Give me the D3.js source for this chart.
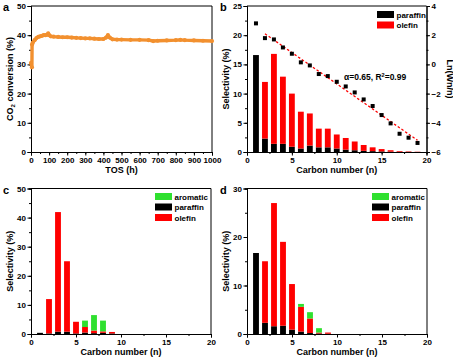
<!DOCTYPE html>
<meta charset="utf-8">
<script src="https://d3js.org/d3.v7.min.js"></script>
<style>
  body { margin: 0; background: #fff; }
  text { font-family: "Liberation Sans", Arial, sans-serif; font-weight: bold; }
</style>
<div id="chart"></div>
<script>
// ---- data ----
// panel a: CO2 conversion vs time on stream
var tos  = [0, 5, 6, 10, 20, 30, 40, 50, 60, 70, 80, 90, 95, 100, 110, 125, 150, 175, 200, 225, 250, 275, 300, 325, 350, 375, 400, 415, 425, 435, 450, 475, 500, 550, 600, 650, 675, 700, 750, 800, 825, 850, 900, 950, 1000];
var conv = [30.5, 29.0, 36.8, 37.5, 38.3, 39.0, 39.4, 39.6, 39.8, 40.0, 40.0, 40.2, 40.6, 40.0, 39.6, 39.5, 39.4, 39.3, 39.3, 39.2, 39.1, 39.0, 38.9, 38.9, 38.8, 38.7, 38.7, 39.2, 40.0, 39.2, 38.6, 38.5, 38.5, 38.4, 38.4, 38.3, 38.0, 38.1, 38.2, 38.3, 38.4, 38.3, 38.2, 38.1, 38.0];

// panel b: selectivity by carbon number + ASF plot
var carbonB   = [1, 2, 3, 4, 5, 6, 7, 8, 9, 10, 11, 12, 13, 14, 15, 16, 17, 18, 19];
var paraffinB = [16.6, 2.3, 1.4, 1.4, 0.9, 0.6, 1.1, 0.8, 0.8, 0.6, 0.4, 0.3, 0.2, 0.15, 0.1, 0.05, 0.03, 0.02, 0.01];
var olefinB   = [0, 9.7, 15.4, 11.5, 9.1, 6.3, 5.5, 3.2, 3.2, 2.4, 2.0, 1.5, 1.0, 0.65, 0.4, 0.25, 0.12, 0.08, 0.04];
var lnWn      = [2.81, 1.80, 1.71, 1.16, 0.73, 0.14, -0.07, -0.66, -0.80, -1.19, -1.51, -1.92, -2.40, -2.85, -3.47, -4.04, -4.75, -5.02, -5.38];
var fitN  = [2, 19];
var fitLn = [2.1, -5.2];

// panel c
var carbonC   = [1, 2, 3, 4, 5, 6, 7, 8, 9];
var paraffinC = [0.4, 0.2, 0.8, 0.8, 0.2, 0.5, 0.3, 0.4, 0.2];
var olefinC   = [0, 11.8, 41.1, 24.2, 4.0, 1.9, 0.9, 0.5, 0.5];
var aromaticC = [0, 0, 0, 0, 0, 2.2, 5.3, 3.7, 0];

// panel d
var carbonD   = [1, 2, 3, 4, 5, 6, 7, 8, 9];
var paraffinD = [16.7, 2.3, 1.6, 1.7, 0.9, 0.5, 0.2, 0.1, 0.05];
var olefinD   = [0, 12.7, 25.4, 17.3, 9.4, 5.1, 3.0, 0.2, 0.25];
var aromaticD = [0, 0, 0, 0, 0, 0.6, 1.3, 0.9, 0];

var RED = "#ff0000", GREEN = "#2fe02f", ORANGE = "#f2902f";

var svg = d3.select("#chart").append("svg")
  .attr("width", 453).attr("height", 363);

// draw frame + axes for one panel
function frame(box, xDom, xStep, xMinor, yDom, yStep, yMinor, rightAxis) {
  var x = d3.scaleLinear().domain(xDom).range([box.l, box.r]);
  var y = d3.scaleLinear().domain(yDom).range([box.b, box.t]);
  var xt = d3.range(xDom[0], xDom[1] + 1e-9, xStep);
  var yt = d3.range(yDom[0], yDom[1] + 1e-9, yStep);
  var xm = d3.range(xDom[0], xDom[1] + 1e-9, xMinor);
  var ym = d3.range(yDom[0], yDom[1] + 1e-9, yMinor);

  svg.append("g").attr("transform", "translate(0," + box.b + ")")
    .call(d3.axisBottom(x).tickValues(xm).tickSize(2).tickFormat(""));
  svg.append("g").attr("transform", "translate(0," + box.b + ")")
    .call(d3.axisBottom(x).tickValues(xt).tickSize(3.5).tickPadding(1.5).tickFormat(d3.format("d")))
    .attr("font-size", 8);
  svg.append("g").attr("transform", "translate(" + box.l + ",0)")
    .call(d3.axisLeft(y).tickValues(ym).tickSize(2).tickFormat(""));
  svg.append("g").attr("transform", "translate(" + box.l + ",0)")
    .call(d3.axisLeft(y).tickValues(yt).tickSize(3.5).tickPadding(1.5).tickFormat(d3.format("d")))
    .attr("font-size", 8);
  // top line
  svg.append("line").attr("x1", box.l).attr("x2", box.r).attr("y1", box.t).attr("y2", box.t)
    .attr("stroke", "#000");
  if (!rightAxis) {
    svg.append("line").attr("x1", box.r).attr("x2", box.r).attr("y1", box.t).attr("y2", box.b)
      .attr("stroke", "#000");
  }
  svg.selectAll(".domain").attr("stroke", "#000");
  svg.selectAll(".tick line").attr("stroke", "#000");
  svg.selectAll(".tick text").attr("fill", "#000").attr("font-weight", "bold");
  return { x: x, y: y };
}

function titles(box, ytitle, xtitle, letter, lx, ly) {
  svg.append("text").attr("x", (box.l + box.r) / 2).attr("y", box.b + 21)
    .attr("text-anchor", "middle").attr("font-size", 9).text(xtitle);
  var yt = svg.append("text")
    .attr("transform", "translate(" + (box.l - 18.5) + "," + ((box.t + box.b) / 2) + ") rotate(-90)")
    .attr("text-anchor", "middle").attr("font-size", 9);
  if (typeof ytitle === "string") yt.text(ytitle); else ytitle(yt);
  svg.append("text").attr("x", lx).attr("y", ly).attr("font-size", 11).text(letter);
}

function legend(x0, y0, items) {
  items.forEach(function (it, i) {
    svg.append("rect").attr("x", x0).attr("y", y0 + i * 10.5).attr("width", 17).attr("height", 7)
      .attr("fill", it[1]);
    svg.append("text").attr("x", x0 + 19.5).attr("y", y0 + i * 10.5 + 6.5)
      .attr("font-size", 8).attr("font-weight", "normal").text(it[0]);
  });
}

function stackedBars(s, n, layers) {
  var bw = Math.abs(s.x(0.65) - s.x(0));
  n.forEach(function (c, i) {
    var base = 0;
    layers.forEach(function (L) {
      var v = L.vals[i];
      if (v > 0) {
        svg.append("rect")
          .attr("x", s.x(c) - bw / 2).attr("width", bw)
          .attr("y", s.y(base + v)).attr("height", s.y(base) - s.y(base + v))
          .attr("fill", L.color);
      }
      base += v;
    });
  });
}

// ---- panel a ----
var boxA = { l: 31, r: 212, t: 6, b: 152 };
var sa = frame(boxA, [0, 1000], 100, 50, [0, 50], 10, 5, false);
var lineA = d3.line().x(function (d) { return sa.x(d[0]); }).y(function (d) { return sa.y(d[1]); });
var ptsA = tos.map(function (t, i) { return [t, conv[i]]; });
svg.append("path").datum(ptsA).attr("d", lineA)
  .attr("fill", "none").attr("stroke", ORANGE).attr("stroke-width", 3.4).attr("stroke-linejoin", "round");
svg.selectAll(".ptA").data(ptsA).enter().append("circle")
  .attr("cx", function (d) { return sa.x(d[0]); }).attr("cy", function (d) { return sa.y(d[1]); })
  .attr("r", 2.1).attr("fill", ORANGE);
titles(boxA, function (t) {
  t.append("tspan").text("CO");
  t.append("tspan").attr("font-size", 6).attr("dy", 2).text("2");
  t.append("tspan").attr("dy", -2).text(" conversion (%)");
}, "TOS (h)", "a", 3, 11);

// ---- panel b ----
var boxB = { l: 247, r: 426.5, t: 6, b: 152 };
var sb = frame(boxB, [0, 20], 5, 2.5, [0, 25], 5, 2.5, true);
var yR = d3.scaleLinear().domain([-6, 4]).range([boxB.b, boxB.t]);
svg.append("g").attr("transform", "translate(" + boxB.r + ",0)")
  .call(d3.axisRight(yR).tickValues(d3.range(-6, 4.1, 1)).tickSize(2).tickFormat(""));
svg.append("g").attr("transform", "translate(" + boxB.r + ",0)")
  .call(d3.axisRight(yR).tickValues(d3.range(-6, 4.1, 2)).tickSize(3.5).tickPadding(1.5))
  .attr("font-size", 8)
  .selectAll("text").attr("fill", "#000").attr("font-weight", "bold");
svg.selectAll(".domain, .tick line").attr("stroke", "#000");
stackedBars(sb, carbonB, [
  { vals: paraffinB, color: "#000" },
  { vals: olefinB, color: RED }
]);
svg.append("path")
  .datum(fitN.map(function (n, i) { return [n, fitLn[i]]; }))
  .attr("d", d3.line().x(function (d) { return sb.x(d[0]); }).y(function (d) { return yR(d[1]); }))
  .attr("stroke", RED).attr("stroke-width", 1.3).attr("stroke-dasharray", "2.5,2").attr("fill", "none");
svg.selectAll(".asf").data(carbonB).enter().append("rect")
  .attr("x", function (d) { return sb.x(d) - 2; })
  .attr("y", function (d, i) { return yR(lnWn[i]) - 2; })
  .attr("width", 4).attr("height", 4).attr("fill", "#000");
svg.append("text").attr("x", 344).attr("y", 80).attr("font-size", 8.5).attr("font-weight", "normal")
  .call(function (t) {
    t.append("tspan").text("\u03b1=0.65, R");
    t.append("tspan").attr("font-size", 5.5).attr("dy", -3).text("2");
    t.append("tspan").attr("dy", 3).text("=0.99");
  });
legend(377, 11, [["paraffin", "#000"], ["olefin", RED]]);
titles(boxB, "Selectivity (%)", "Carbon number (n)", "b", 220, 11);
svg.append("text")
  .attr("transform", "translate(" + (boxB.r + 20) + "," + ((boxB.t + boxB.b) / 2) + ") rotate(90)")
  .attr("text-anchor", "middle").attr("font-size", 9).text("Ln(Wn/n)");

// ---- panel c ----
var boxC = { l: 31, r: 211, t: 188.5, b: 334 };
var sc = frame(boxC, [0, 20], 5, 2.5, [0, 50], 10, 5, false);
stackedBars(sc, carbonC, [
  { vals: paraffinC, color: "#000" },
  { vals: olefinC, color: RED },
  { vals: aromaticC, color: GREEN }
]);
legend(155, 193, [["aromatic", GREEN], ["paraffin", "#000"], ["olefin", RED]]);
titles(boxC, "Selectivity (%)", "Carbon number (n)", "c", 3, 194);

// ---- panel d ----
var boxD = { l: 247, r: 427, t: 188.5, b: 334 };
var sd = frame(boxD, [0, 20], 5, 2.5, [0, 30], 10, 5, false);
stackedBars(sd, carbonD, [
  { vals: paraffinD, color: "#000" },
  { vals: olefinD, color: RED },
  { vals: aromaticD, color: GREEN }
]);
legend(372, 193, [["aromatic", GREEN], ["paraffin", "#000"], ["olefin", RED]]);
titles(boxD, "Selectivity (%)", "Carbon number (n)", "d", 220, 194);
</script>
